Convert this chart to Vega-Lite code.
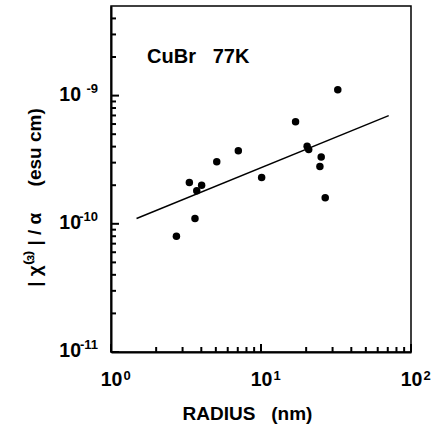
{
  "$schema": "https://vega.github.io/schema/vega-lite/v6.json",
  "autosize": "none",
  "width": 300,
  "height": 346,
  "padding": {"left": 111, "top": 6, "right": 24, "bottom": 76},
  "config": {
    "view": {"stroke": "black", "strokeWidth": 1.5},
    "font": "Liberation Sans",
    "axis": {
      "grid": false,
      "domain": false,
      "domainColor": "black",
      "domainWidth": 2,
      "ticks": false,
      "labelColor": "black",
      "labelFont": "Liberation Sans",
      "labelFontSize": 19.5,
      "labelFontWeight": "bold",
      "labelFlush": false,
      "labelOverlap": false,
      "titleColor": "black",
      "titleFont": "Liberation Sans",
      "titleFontSize": 19,
      "titleFontWeight": "bold"
    }
  },
  "resolve": {"axis": {"x": "independent", "y": "independent"}},
  "layer": [
    {
      "data": {"values": [{"v": 1}, {"v": 10}, {"v": 100}]},
      "mark": {"type": "rule", "color": "black", "strokeWidth": 2},
      "encoding": {
        "x": {"field": "v", "type": "quantitative", "scale": {"type": "log", "domain": [1, 100], "nice": false}, "axis": null},
        "y": {"datum": 1e-11, "type": "quantitative", "scale": {"type": "log", "domain": [1e-11, 5e-9], "nice": false}, "axis": null},
        "y2": {"datum": 1.155e-11}
      }
    },
    {
      "data": {"values": [{"v": 2}, {"v": 3}, {"v": 4}, {"v": 5}, {"v": 6}, {"v": 7}, {"v": 8}, {"v": 9}, {"v": 20}, {"v": 30}, {"v": 40}, {"v": 50}, {"v": 60}, {"v": 70}, {"v": 80}, {"v": 90}]},
      "mark": {"type": "rule", "color": "black", "strokeWidth": 2},
      "encoding": {
        "x": {"field": "v", "type": "quantitative", "scale": {"type": "log", "domain": [1, 100], "nice": false}, "axis": null},
        "y": {"datum": 1e-11, "type": "quantitative", "scale": {"type": "log", "domain": [1e-11, 5e-9], "nice": false}, "axis": null},
        "y2": {"datum": 1.094e-11}
      }
    },
    {
      "data": {"values": [{"v": 1e-11}, {"v": 1e-10}, {"v": 1e-9}]},
      "mark": {"type": "rule", "color": "black", "strokeWidth": 2},
      "encoding": {
        "y": {"field": "v", "type": "quantitative", "scale": {"type": "log", "domain": [1e-11, 5e-9], "nice": false}, "axis": null},
        "x": {"datum": 1, "type": "quantitative", "scale": {"type": "log", "domain": [1, 100], "nice": false}, "axis": null},
        "x2": {"datum": 1.131}
      }
    },
    {
      "data": {"values": [{"v": 2e-11}, {"v": 3e-11}, {"v": 4e-11}, {"v": 5e-11}, {"v": 6e-11}, {"v": 7e-11}, {"v": 8e-11}, {"v": 9e-11}, {"v": 2e-10}, {"v": 3e-10}, {"v": 4e-10}, {"v": 5e-10}, {"v": 6e-10}, {"v": 7e-10}, {"v": 8e-10}, {"v": 9e-10}, {"v": 2e-9}, {"v": 3e-9}, {"v": 4e-9}]},
      "mark": {"type": "rule", "color": "black", "strokeWidth": 2},
      "encoding": {
        "y": {"field": "v", "type": "quantitative", "scale": {"type": "log", "domain": [1e-11, 5e-9], "nice": false}, "axis": null},
        "x": {"datum": 1, "type": "quantitative", "scale": {"type": "log", "domain": [1, 100], "nice": false}, "axis": null},
        "x2": {"datum": 1.08}
      }
    },
    {
      "data": {"values": [
        {"r": 2.73, "chi": 8.0e-11},
        {"r": 3.33, "chi": 2.10e-10},
        {"r": 3.63, "chi": 1.10e-10},
        {"r": 3.73, "chi": 1.81e-10},
        {"r": 4.02, "chi": 2.00e-10},
        {"r": 5.07, "chi": 3.05e-10},
        {"r": 7.06, "chi": 3.72e-10},
        {"r": 10.1, "chi": 2.30e-10},
        {"r": 17.0, "chi": 6.26e-10},
        {"r": 20.3, "chi": 4.02e-10},
        {"r": 20.8, "chi": 3.79e-10},
        {"r": 25.2, "chi": 3.32e-10},
        {"r": 24.7, "chi": 2.80e-10},
        {"r": 26.8, "chi": 1.60e-10},
        {"r": 32.5, "chi": 1.11e-9}
      ]},
      "mark": {"type": "circle", "size": 56, "color": "black", "opacity": 1},
      "encoding": {
        "x": {
          "field": "r", "type": "quantitative",
          "scale": {"type": "log", "domain": [1, 100], "nice": false},
          "axis": {
            "orient": "bottom",
            "values": [1, 10, 100],
            "labelExpr": "'10'",
            "domain": true,
            "labelPadding": 33,
            "labelBaseline": "alphabetic",
            "title": "RADIUS\u00a0\u00a0\u00a0(nm)",
            "titleX": 136,
            "titleY": 67,
            "titleBaseline": "alphabetic"
          }
        },
        "y": {
          "field": "chi", "type": "quantitative",
          "scale": {"type": "log", "domain": [1e-11, 5e-9], "nice": false},
          "axis": {
            "orient": "left",
            "values": [1e-11, 1e-10, 1e-9],
            "labelExpr": "'10'",
            "domain": true,
            "labelPadding": 30.5,
            "labelAlign": "right",
            "labelBaseline": "middle",
            "labelOffset": -1.5,
            "title": "| χ⁽³⁾ |  / α\u00a0\u00a0\u00a0\u00a0\u00a0(esu cm)",
            "titleX": -71,
            "titleY": 191,
            "titleAngle": -90,
            "titleAlign": "center",
            "titleBaseline": "alphabetic"
          }
        }
      }
    },
    {
      "data": {"values": [
        {"r": 1.48, "chi": 1.10e-10},
        {"r": 71, "chi": 6.98e-10}
      ]},
      "mark": {"type": "line", "color": "black", "strokeWidth": 1.4},
      "encoding": {
        "x": {
          "field": "r", "type": "quantitative",
          "scale": {"type": "log", "domain": [1, 100], "nice": false},
          "axis": {
            "orient": "bottom",
            "values": [1, 10, 100],
            "labelExpr": "datum.value < 5 ? '0' : datum.value < 50 ? '1' : '2'",
            "labelFontSize": 13,
            "labelAlign": "left",
            "labelOffset": 12,
            "labelBaseline": "alphabetic",
            "labelPadding": 27,
            "title": null
          }
        },
        "y": {
          "field": "chi", "type": "quantitative",
          "scale": {"type": "log", "domain": [1e-11, 5e-9], "nice": false},
          "axis": {
            "orient": "left",
            "values": [1e-11, 1e-10, 1e-9],
            "labelExpr": "datum.value < 5e-11 ? '-11' : datum.value < 5e-10 ? '-10' : '-9'",
            "labelFontSize": 13,
            "labelAlign": "right",
            "labelBaseline": "middle",
            "labelOffset": -7.5,
            "labelPadding": 13.5,
            "title": null
          }
        }
      }
    },
    {
      "data": {"values": [
        {"r": 1.74, "chi": 1.80e-9, "label": "CuBr\u00a0\u00a0\u00a077K"}
      ]},
      "mark": {"type": "text", "align": "left", "baseline": "alphabetic", "font": "Liberation Sans", "fontSize": 20, "fontWeight": "bold", "color": "black"},
      "encoding": {
        "x": {"field": "r", "type": "quantitative", "scale": {"type": "log", "domain": [1, 100], "nice": false}, "axis": null},
        "y": {"field": "chi", "type": "quantitative", "scale": {"type": "log", "domain": [1e-11, 5e-9], "nice": false}, "axis": null},
        "text": {"field": "label"}
      }
    }
  ]
}
